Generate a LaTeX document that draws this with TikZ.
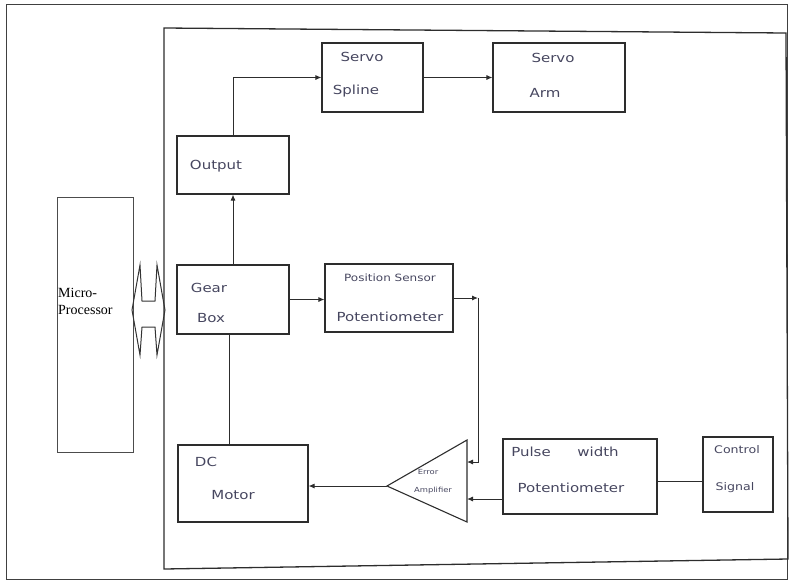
\documentclass[tikz,border=0pt]{standalone}
\usepackage{fontspec}
\usetikzlibrary{arrows.meta,calc}
\setmainfont{Liberation Serif}
\newfontfamily\hand[FakeStretch=1.2]{DejaVu Sans}
\definecolor{ink}{RGB}{70,70,95}
\definecolor{pen}{RGB}{45,45,45}
\begin{document}
\begin{tikzpicture}[x=1pt,y=-1pt,
  box/.style={draw=pen, line width=1.1pt, inner sep=0pt},
  hw/.style={text=ink, inner sep=0pt, font=\hand\fontsize{12.5}{15}\selectfont},
  tiny/.style={text=ink, inner sep=0pt, font=\hand\fontsize{7}{9}\selectfont},
  conn/.style={draw=pen, line width=0.9pt},
  arr/.style={conn, -{Latex[length=6pt,width=5pt]}}]
\useasboundingbox (0,0) rectangle (790,582);
% outer frame
\draw[line width=0.8pt, black!75] (6,4) rectangle (787,579);
% inner hand-drawn frame
\draw[pen, line width=1.3pt] (164,28) -- (786,33) -- (788,559) -- (164,569) -- cycle;
% microprocessor
\node[draw=black!70, line width=0.8pt, minimum width=76pt, minimum height=255pt, inner sep=0pt] (micro) at (95,324.5) {};
\node[anchor=west, align=left, inner sep=0pt, font=\fontsize{14}{17}\selectfont] (microT) at (58,301) {Micro-\\Processor};
% hollow double arrow (bus)
\draw[black!80, line width=1pt] (132,310) -- (140,265) -- (142,301) -- (155,301) -- (157,265) -- (165,310)
  -- (157,355) -- (155,327) -- (142,327) -- (140,355) -- cycle;
% boxes
\node[box, minimum width=101pt, minimum height=69pt] (spline) at (372.5,77.5) {};
\node[box, minimum width=132pt, minimum height=69pt] (arm) at (559,77.5) {};
\node[box, minimum width=112pt, minimum height=58pt] (output) at (233,165) {};
\node[box, minimum width=112pt, minimum height=69pt] (gear) at (233,299.5) {};
\node[box, minimum width=128pt, minimum height=68pt] (pos) at (389,298) {};
\node[box, minimum width=130pt, minimum height=77pt] (motor) at (243,483.5) {};
\node[box, minimum width=154pt, minimum height=75pt] (pulse) at (580,476.5) {};
\node[box, minimum width=70pt, minimum height=75pt] (control) at (738,474.5) {};
% error amplifier
\draw[pen, line width=1.1pt] (387,486) -- (467,440) -- (467,522) -- cycle;
\coordinate (ampTip) at (387,486);
\coordinate (ampIn1) at (467,462);
\coordinate (ampIn2) at (467,499);
\coordinate (corner) at (478,298);
% texts
\node[hw] (t1) at (362,57) {Servo};
\node[hw] (t2) at (356,91) {Spline};
\node[hw] (t3) at (553,58) {Servo};
\node[hw] (t4) at (545,93) {Arm};
\node[hw] (t5) at (216,166) {Output};
\node[hw] (t6) at (209,288) {Gear};
\node[hw] (t7) at (211,318) {Box};
\node[hw, font=\hand\fontsize{10}{12}\selectfont] (t8) at (390,278) {Position Sensor};
\node[hw] (t9) at (390,317) {Potentiometer};
\node[hw] (t10) at (206,462) {DC};
\node[hw] (t11) at (233,495) {Motor};
\node[tiny] (t12) at (428,472) {Error};
\node[tiny] (t13) at (433,491) {Amplifier};
\node[hw] (t14) at (531,452) {Pulse};
\node[hw] (t15) at (598,452) {width};
\node[hw] (t16) at (571,488) {Potentiometer};
\node[hw, font=\hand\fontsize{10.5}{13}\selectfont] (t17) at (737,450) {Control};
\node[hw, font=\hand\fontsize{10.5}{13}\selectfont] (t18) at (735,488) {Signal};
% connectors
\draw[arr] (output.north) |- (spline.west);
\draw[arr] (spline.east) -- (arm.west);
\draw[arr] (gear.north) -- (output.south);
\draw[conn] ([xshift=-14pt]motor.north) -- ([xshift=-4pt]gear.south);
\draw[arr] (gear.east) -- (gear.east -| pos.west);
\draw[arr] (pos.east) -- (corner);
\draw[arr] (corner) |- (ampIn1);
\draw[arr] (pulse.west |- ampIn2) -- (ampIn2);
\draw[conn] ([yshift=-4.5pt]pulse.east) -- ([yshift=-6.5pt]control.west);
\draw[arr] (ampTip) -- (ampTip -| motor.east);
\end{tikzpicture}
\end{document}
